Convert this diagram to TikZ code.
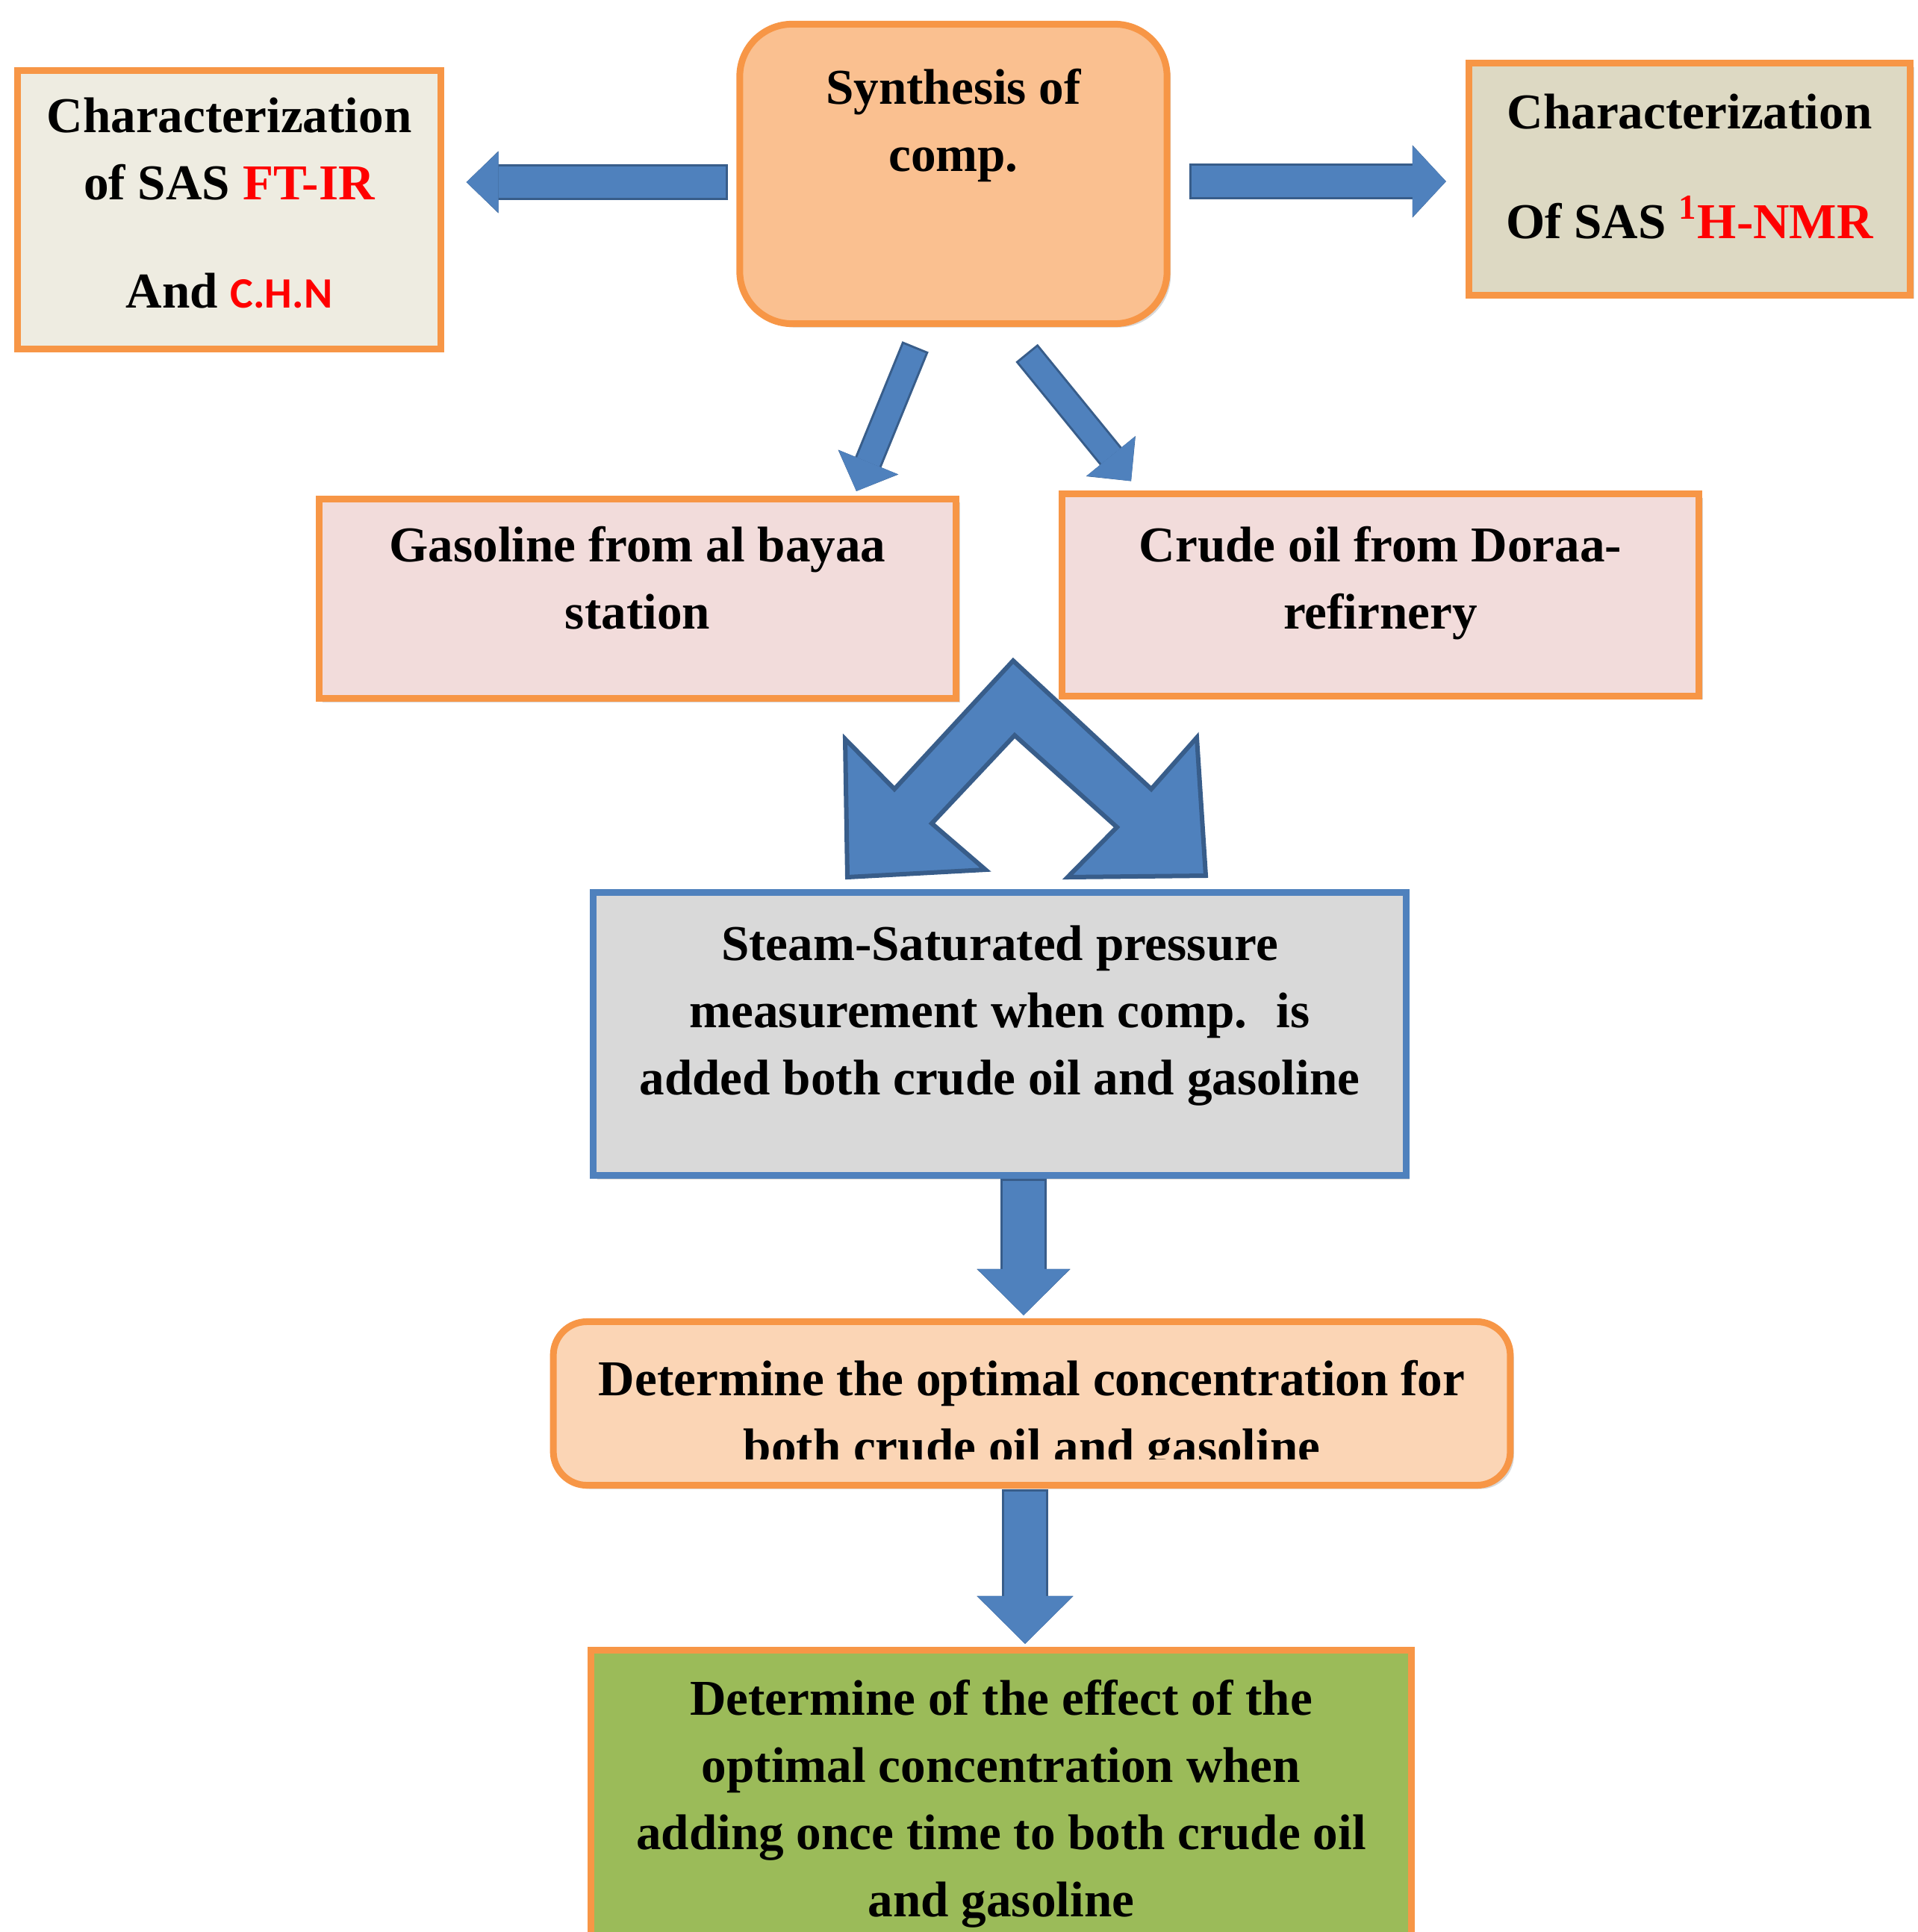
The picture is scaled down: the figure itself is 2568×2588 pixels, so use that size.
\documentclass[tikz,border=0pt]{standalone}
\usepackage{fontspec}
\setmainfont{Liberation Serif}
\newfontfamily\calib{Carlito}
\usetikzlibrary{arrows.meta, positioning, calc, shadows}

\definecolor{boxOrange}{HTML}{F79646}
\definecolor{creamL}{HTML}{EEECE1}
\definecolor{creamR}{HTML}{DDD9C3}
\definecolor{synthFill}{HTML}{FAC090}
\definecolor{pinkFill}{HTML}{F2DCDB}
\definecolor{greyFill}{HTML}{D9D9D9}
\definecolor{steamBlue}{HTML}{4F81BD}
\definecolor{peachFill}{HTML}{FBD5B5}
\definecolor{greenFill}{HTML}{9BBB59}
\definecolor{arrFill}{HTML}{4F81BD}
\definecolor{arrEdge}{HTML}{385D8A}
\definecolor{hlRed}{HTML}{FF0000}

\begin{document}
\begin{tikzpicture}[
    x=0.01cm, y=-0.01cm,
    box/.style={
        rectangle, draw=boxOrange, line width=0.09cm,
        inner sep=0pt,
        drop shadow={shadow xshift=0.05cm, shadow yshift=-0.05cm,
            opacity=0.3, fill=black!50}
    },
    txt/.style={
        align=center, inner sep=0pt, anchor=north,
        font=\bfseries\fontsize{19.1pt}{25.6pt}\selectfont
    },
    blk/.style n args={3}{
        draw=arrFill, line width=#1,
        -{Triangle[length=#3, width=#2, line width=0pt]},
        preaction={draw=arrEdge, line width=#1+0.06cm, shorten <=-0.03cm,
            -{Triangle[length=#3, width=#2, line width=0.06cm,
              color=arrEdge, fill=arrFill]}}
    }
]

\path[use as bounding box, fill=white] (0,0) rectangle (2568,2588);

% === TOP ROW ===

\node[box, fill=creamL, minimum width=5.66cm, minimum height=3.72cm] (charL) at (307,281) {};
\node[txt, below=0.40cm of charL.north] (charLT) {%
Characterization\\
of SAS \textcolor{hlRed}{FT-IR}\\[0.55cm]
And {\calib\fontsize{16.5pt}{20pt}\selectfont\textcolor{hlRed}{C.H.N}}
};

\node[box, fill=synthFill, rounded corners=0.7cm,
      minimum width=5.72cm, minimum height=4.01cm] (synth) at (1277,233) {};
\node[txt, below=0.64cm of synth.north] (synthT) {%
Synthesis of\\
comp.
};

\node[box, fill=creamR, minimum width=5.91cm, minimum height=3.10cm] (charR) at (2263,240) {};
\node[txt, below=0.45cm of charR.north] (charRT) {%
Characterization\\[0.57cm]
Of SAS \textcolor{hlRed}{\textsuperscript{1}H-NMR}
};

% === SAMPLES ===

\node[box, fill=pinkFill, minimum width=8.53cm, minimum height=2.67cm] (gas) at (854,802) {};
\node[txt, below=0.41cm of gas.north] (gasT) {%
Gasoline from al bayaa\\
station
};

\node[box, fill=pinkFill, minimum width=8.53cm, minimum height=2.70cm] (crude) at (1849,797) {};
\node[txt, below=0.47cm of crude.north] (crudeT) {%
Crude oil from Doraa-\\
refirnery
};

% === MEASUREMENT ===

\node[box, draw=steamBlue, fill=greyFill,
      minimum width=10.88cm, minimum height=3.79cm] (steam) at (1339,1385) {};
\node[txt, below=0.48cm of steam.north] (steamT) {%
Steam-Saturated pressure\\
measurement when comp.~ is\\
added both crude oil and gasoline
};

\node[box, fill=peachFill, rounded corners=0.45cm,
      minimum width=12.81cm, minimum height=2.19cm] (opt) at (1382,1880) {};
\begin{scope}
\clip (opt.north west) rectangle ([yshift=0.40cm]opt.south east);
\node[txt, below=0.56cm of opt.north] (optT) {%
Determine the optimal concentration for\\
both crude oil and gasoline
};
\end{scope}

\node[box, fill=greenFill, anchor=north,
      minimum width=10.98cm, minimum height=4.6cm] (green) at (1341,2206) {};
\node[txt, below=0.43cm of green.north] (greenT) {%
Determine of the effect of the\\
optimal concentration when\\
adding once time to both crude oil\\
and gasoline
};

% === BLOCK ARROWS ===

% synthesis -> characterization
\draw[blk={0.42cm}{0.82cm}{0.43cm}] ($(synth.west |- 0,244)+(-14,0)$) -- ($(charL.east |- 0,244)+(30,0)$);
\draw[blk={0.42cm}{0.96cm}{0.45cm}] ($(synth.east |- 0,243)+(28,0)$) -- ($(charR.west |- 0,243)+(-26,0)$);

% synthesis -> samples
\draw[blk={0.32cm}{0.86cm}{0.42cm}] ($(synth.south)+(-52,29)$) -- ($(gas.north)+(293,-6)$);
\draw[blk={0.32cm}{0.84cm}{0.43cm}] ($(synth.south)+(100,37)$) -- ($(crude.north)+(-334,-13)$);

% samples -> measurement
\filldraw[fill=arrFill, draw=arrEdge, line width=0.06cm]
    (1357,885) -- (1542,1057) -- (1603,988) -- (1615,1173) -- (1430,1175) -- (1496,1108)
    -- (1359,985) -- (1248,1103) -- (1320,1165) -- (1135,1175) -- (1132,990) -- (1198,1057) -- cycle;

% measurement -> optimum -> effect
\draw[blk={0.56cm}{1.24cm}{0.62cm}] ($(steam.south)+(32,3)$) -- ($(opt.north)+(-11,-4)$);
\draw[blk={0.56cm}{1.28cm}{0.64cm}] ($(opt.south)+(-9,4)$) -- ($(green.north)+(32,-4)$);

\end{tikzpicture}
\end{document}
